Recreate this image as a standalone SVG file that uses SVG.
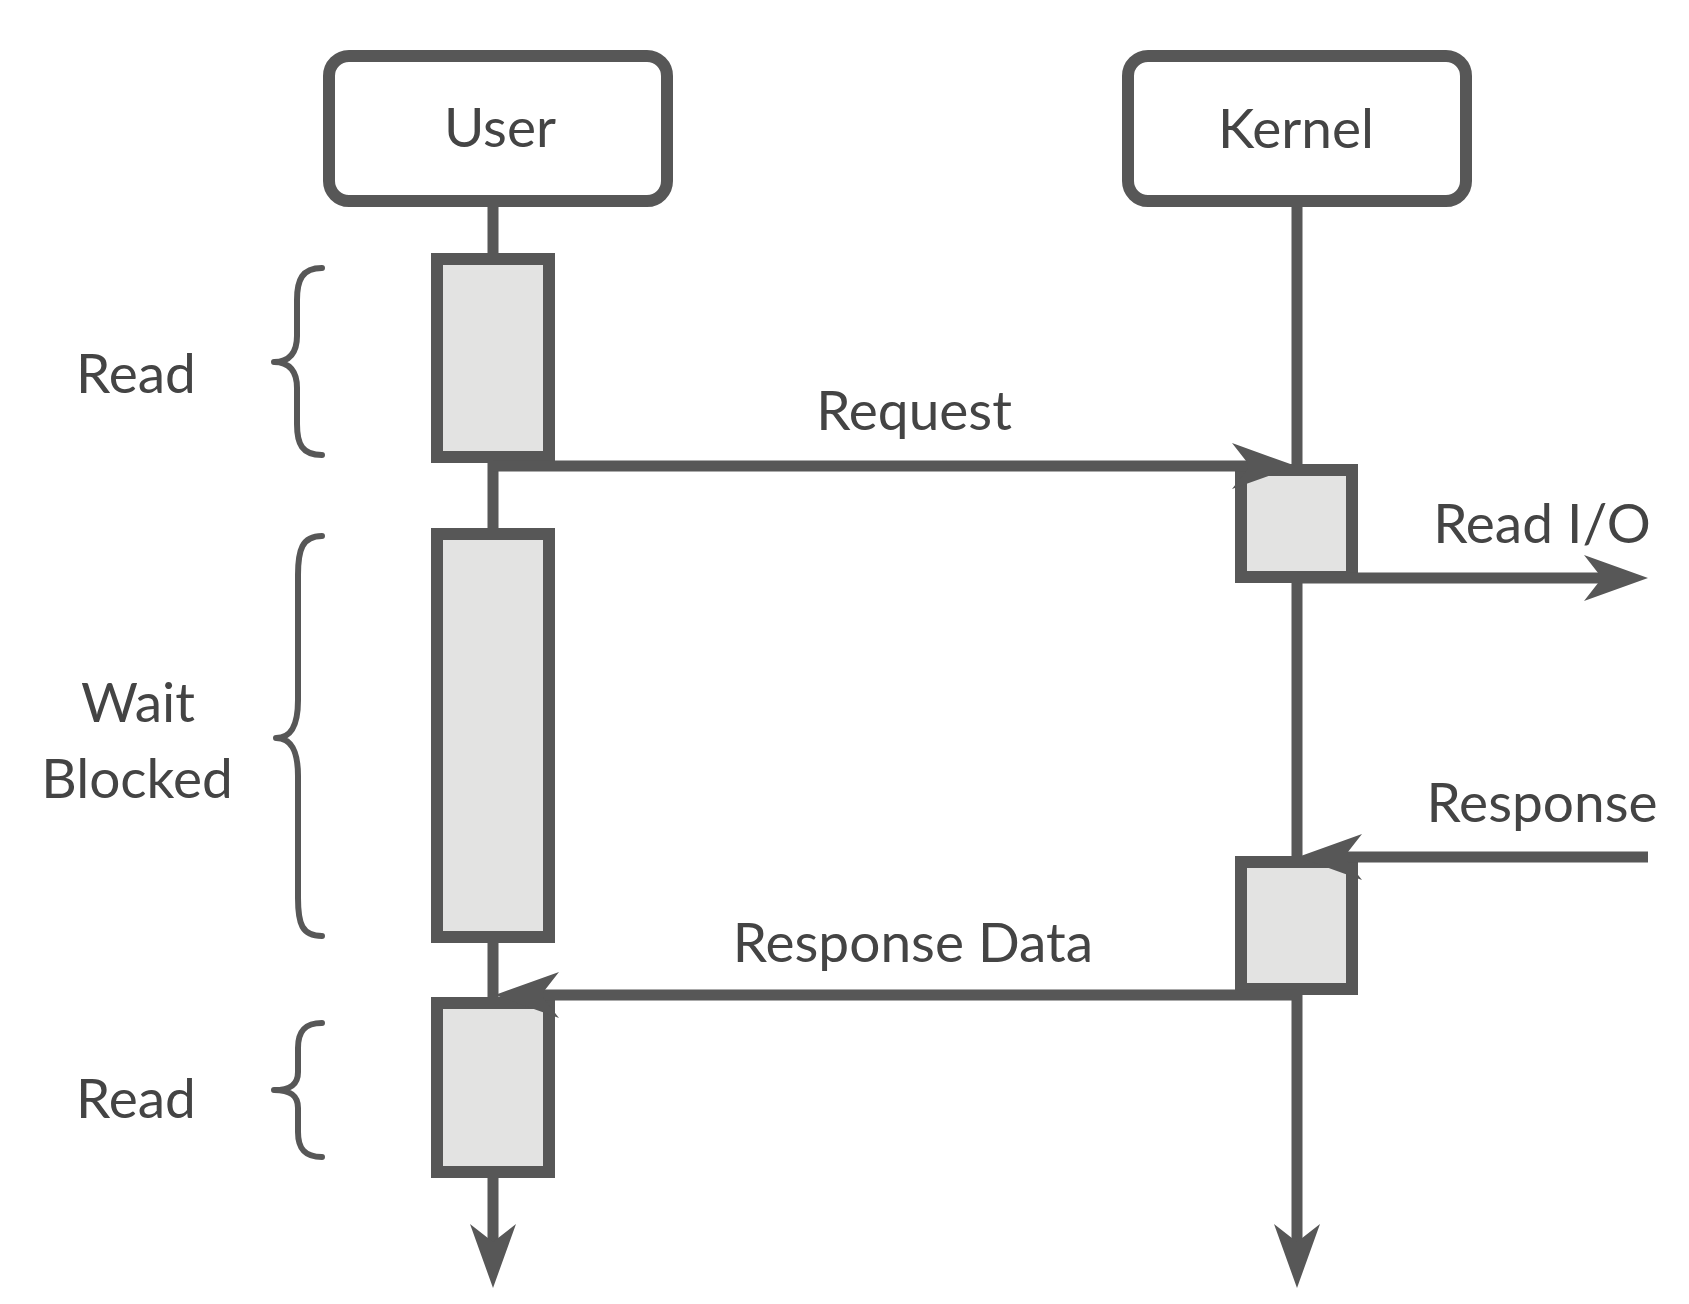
<svg xmlns="http://www.w3.org/2000/svg" width="1689" height="1304" viewBox="0 0 1689 1304">
<style>
.box{fill:#ffffff;stroke:#575757;stroke-width:12}
.act{fill:#e3e3e2;stroke:#575757;stroke-width:12}
.life{stroke:#575757;stroke-width:11;fill:none}
.conn{stroke:#575757;stroke-width:11;fill:none}
.brace{stroke:#575757;stroke-width:6;fill:none;stroke-linecap:round;stroke-linejoin:round}
.t{font-family:Lato,"Liberation Sans",sans-serif;font-size:55px;fill:#444444;text-anchor:middle}
</style>
<defs>
<marker id="ah" markerUnits="userSpaceOnUse" viewBox="-66 -26 70 52" markerWidth="70" markerHeight="52" refX="-40" refY="0" orient="auto">
<path d="M1,0 L-63,-23 L-45,0 L-63,23 Z" fill="#575757"/>
</marker>
</defs>
<rect width="1689" height="1304" fill="#ffffff"/>
<g id="lifelines">
<line class="life" x1="493" y1="201" x2="493" y2="1247" marker-end="url(#ah)"/>
<line class="life" x1="1297" y1="201" x2="1297" y2="1247" marker-end="url(#ah)"/>
</g>
<g id="user">
<rect class="box" x="329" y="56" width="338" height="145" rx="20"/>
<text class="t" x="500" y="147">User</text>
</g>
<g id="kernel">
<rect class="box" x="1128" y="56" width="338" height="145" rx="20"/>
<text class="t" x="1296" y="148">Kernel</text>
</g>
<g id="user-read1"><rect class="act" x="437" y="259" width="112" height="198"/></g>
<g id="user-wait"><rect class="act" x="437" y="534" width="112" height="403"/></g>
<g id="user-read2"><rect class="act" x="437" y="1003" width="112" height="169"/></g>
<g id="kernel-act1"><rect class="act" x="1241" y="470" width="111" height="107"/></g>
<g id="kernel-act2"><rect class="act" x="1241" y="862" width="111" height="127"/></g>
<g id="connectors">
<line class="conn" x1="493" y1="466" x2="1255" y2="466" marker-end="url(#ah)"/>
<line class="conn" x1="1297" y1="578" x2="1607" y2="578" marker-end="url(#ah)"/>
<line class="conn" x1="1648" y1="857" x2="1339" y2="857" marker-end="url(#ah)"/>
<line class="conn" x1="1297" y1="995" x2="536" y2="995" marker-end="url(#ah)"/>
</g>
<g id="labels">
<text class="t" x="914" y="430">Request</text>
<text class="t" x="1542" y="543">Read I/O</text>
<text class="t" x="1542" y="822">Response</text>
<text class="t" x="913" y="962">Response Data</text>
</g>
<g id="brace-read1">
<path class="brace" d="M322,268 C302,268 297,280 297,300 L297,336 C297,352 290,362 274,362 C290,362 297,372 297,388 L297,424 C297,444 302,455 322,455"/>
<text class="t" x="136" y="393">Read</text>
</g>
<g id="brace-wait">
<path class="brace" d="M322,536 C302,536 298,550 298,575 L298,700 C298,726 291,738 276,738 C291,738 298,750 298,776 L298,898 C298,924 302,936 322,936"/>
<text class="t" x="138" y="722">Wait</text>
<text class="t" x="137" y="798">Blocked</text>
</g>
<g id="brace-read2">
<path class="brace" d="M322,1023 C304,1023 298,1032 298,1048 L298,1072 C298,1084 291,1090 274,1090 C291,1090 298,1096 298,1108 L298,1132 C298,1148 304,1157 322,1157"/>
<text class="t" x="136" y="1118">Read</text>
</g>
</svg>
